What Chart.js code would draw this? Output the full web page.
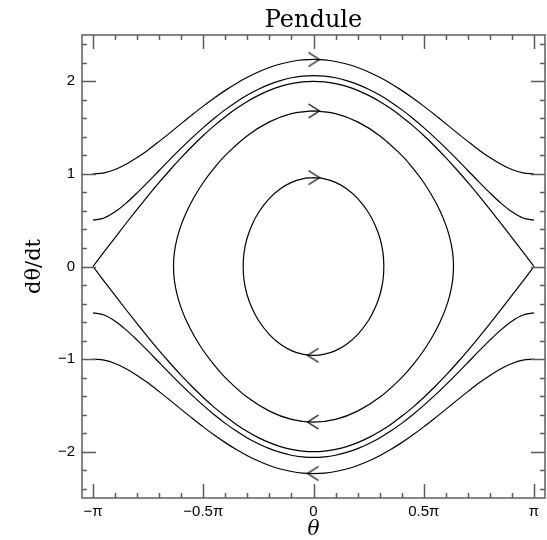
<!DOCTYPE html>
<html lang="fr">
<head>
<meta charset="UTF-8">
<title>Pendule</title>
<script src="https://cdn.jsdelivr.net/npm/chart.js"></script>
<style>
  html, body { margin: 0; padding: 0; background: #fff; }
  canvas { display: block; }
</style>
</head>
<body>
<canvas id="c" width="547" height="540"></canvas>
<script>
// theta in units of pi
const thetaOpen = [-1, -0.95, -0.9, -0.85, -0.8, -0.75, -0.7, -0.65, -0.6, -0.55, -0.5,
                   -0.45, -0.4, -0.35, -0.3, -0.25, -0.2, -0.15, -0.1, -0.05, 0,
                   0.05, 0.1, 0.15, 0.2, 0.25, 0.3, 0.35, 0.4, 0.45, 0.5,
                   0.55, 0.6, 0.65, 0.7, 0.75, 0.8, 0.85, 0.9, 0.95, 1];

const outerTop = [1.000, 1.012, 1.048, 1.104, 1.176, 1.259, 1.351, 1.446, 1.543, 1.639, 1.732,
                  1.820, 1.902, 1.977, 2.043, 2.101, 2.149, 2.187, 2.214, 2.231, 2.236,
                  2.231, 2.214, 2.187, 2.149, 2.101, 2.043, 1.977, 1.902, 1.820, 1.732,
                  1.639, 1.543, 1.446, 1.351, 1.259, 1.176, 1.104, 1.048, 1.012, 1.000];
const outerBot = [-1.000, -1.012, -1.048, -1.104, -1.176, -1.259, -1.351, -1.446, -1.543, -1.639, -1.732,
                  -1.820, -1.902, -1.977, -2.043, -2.101, -2.149, -2.187, -2.214, -2.231, -2.236,
                  -2.231, -2.214, -2.187, -2.149, -2.101, -2.043, -1.977, -1.902, -1.820, -1.732,
                  -1.639, -1.543, -1.446, -1.351, -1.259, -1.176, -1.104, -1.048, -1.012, -1.000];
const midTop = [0.500, 0.524, 0.590, 0.684, 0.795, 0.914, 1.037, 1.159, 1.278, 1.392, 1.500,
                1.601, 1.694, 1.777, 1.851, 1.914, 1.967, 2.008, 2.038, 2.056, 2.062,
                2.056, 2.038, 2.008, 1.967, 1.914, 1.851, 1.777, 1.694, 1.601, 1.500,
                1.392, 1.278, 1.159, 1.037, 0.914, 0.795, 0.684, 0.590, 0.524, 0.500];
const midBot = [-0.500, -0.524, -0.590, -0.684, -0.795, -0.914, -1.037, -1.159, -1.278, -1.392, -1.500,
                -1.601, -1.694, -1.777, -1.851, -1.914, -1.967, -2.008, -2.038, -2.056, -2.062,
                -2.056, -2.038, -2.008, -1.967, -1.914, -1.851, -1.777, -1.694, -1.601, -1.500,
                -1.392, -1.278, -1.159, -1.037, -0.914, -0.795, -0.684, -0.590, -0.524, -0.500];
const sepTop = [0, 0.157, 0.313, 0.467, 0.618, 0.765, 0.908, 1.045, 1.176, 1.299, 1.414,
                1.521, 1.618, 1.705, 1.782, 1.848, 1.902, 1.945, 1.975, 1.994, 2.000,
                1.994, 1.975, 1.945, 1.902, 1.848, 1.782, 1.705, 1.618, 1.521, 1.414,
                1.299, 1.176, 1.045, 0.908, 0.765, 0.618, 0.467, 0.313, 0.157, 0];
const sepBot = [0, -0.157, -0.313, -0.467, -0.618, -0.765, -0.908, -1.045, -1.176, -1.299, -1.414,
                -1.521, -1.618, -1.705, -1.782, -1.848, -1.902, -1.945, -1.975, -1.994, -2.000,
                -1.994, -1.975, -1.945, -1.902, -1.848, -1.782, -1.705, -1.618, -1.521, -1.414,
                -1.299, -1.176, -1.045, -0.908, -0.765, -0.618, -0.467, -0.313, -0.157, 0];

// large closed orbit
const bigLoopX = [0, 0.1, 0.2, 0.3, 0.4, 0.45, 0.5, 0.541, 0.574, 0.600, 0.619, 0.631, 0.635,
                  0.631, 0.619, 0.600, 0.574, 0.541, 0.5, 0.45, 0.4, 0.3, 0.2, 0.1, 0,
                  -0.1, -0.2, -0.3, -0.4, -0.45, -0.5, -0.541, -0.574, -0.600, -0.619, -0.631, -0.635,
                  -0.631, -0.619, -0.600, -0.574, -0.541, -0.5, -0.45, -0.4, -0.3, -0.2, -0.1, 0];
const bigLoopY = [1.680, 1.651, 1.562, 1.413, 1.200, 1.065, 0.907, 0.75, 0.6, 0.45, 0.3, 0.15, 0,
                  -0.15, -0.3, -0.45, -0.6, -0.75, -0.907, -1.065, -1.200, -1.413, -1.562, -1.651, -1.680,
                  -1.651, -1.562, -1.413, -1.200, -1.065, -0.907, -0.75, -0.6, -0.45, -0.3, -0.15, 0,
                  0.15, 0.3, 0.45, 0.6, 0.75, 0.907, 1.065, 1.200, 1.413, 1.562, 1.651, 1.680];

// small closed orbit
const smallLoopX = [0, 0.05, 0.1, 0.15, 0.2, 0.25, 0.28, 0.302, 0.315, 0.319,
                    0.315, 0.302, 0.28, 0.25, 0.2, 0.15, 0.1, 0.05, 0,
                    -0.05, -0.1, -0.15, -0.2, -0.25, -0.28, -0.302, -0.315, -0.319,
                    -0.315, -0.302, -0.28, -0.25, -0.2, -0.15, -0.1, -0.05, 0];
const smallLoopY = [0.960, 0.947, 0.908, 0.839, 0.735, 0.580, 0.444, 0.3, 0.15, 0,
                    -0.15, -0.3, -0.444, -0.580, -0.735, -0.839, -0.908, -0.947, -0.960,
                    -0.947, -0.908, -0.839, -0.735, -0.580, -0.444, -0.3, -0.15, 0,
                    0.15, 0.3, 0.444, 0.580, 0.735, 0.839, 0.908, 0.947, 0.960];

// direction arrows on the orbits
const arrowX = [0, 0, 0, 0, 0, 0];
const arrowY = [2.236, 1.680, 0.960, -0.960, -1.680, -2.236];
const arrowRot = [0, 0, 0, 180, 180, 180];

const xTicks = [-1, -0.5, 0, 0.5, 1];
const xTickLabels = ['\u2212\u03c0', '\u22120.5\u03c0', '0', '0.5\u03c0', '\u03c0'];
const yTicks = [-2, -1, 0, 1, 2];
const yTickLabels = ['\u22122', '\u22121', '0', '1', '2'];

const pts = (xs, ys) => xs.map((v, i) => ({ x: v, y: ys[i] }));

// little open chevron used as point style
const arrowImg = document.createElement('canvas');
arrowImg.width = 24;
arrowImg.height = 18;
(function () {
  const g = arrowImg.getContext('2d');
  g.strokeStyle = '#000';
  g.lineWidth = 1.2;
  g.beginPath();
  g.moveTo(7, 2);
  g.lineTo(18, 9);
  g.lineTo(7, 16);
  g.stroke();
})();

const curve = (data, monotone) => ({
  data: data,
  showLine: true,
  borderColor: '#000',
  borderWidth: 1.2,
  pointRadius: 0,
  fill: false,
  cubicInterpolationMode: monotone ? 'monotone' : 'default',
  tension: monotone ? 0 : 0.4
});

const frame = {
  id: 'frame',
  afterDatasetsDraw(chart) {
    const { ctx, chartArea: a, scales: { x, y } } = chart;
    ctx.save();
    ctx.strokeStyle = '#5c5c5c';
    ctx.lineWidth = 1.5;
    ctx.strokeRect(a.left, a.top, a.right - a.left, a.bottom - a.top);
    ctx.beginPath();
    for (let k = -10; k <= 10; k++) {
      const px = Math.round(x.getPixelForValue(k * 0.1)) + 0.5;
      const len = k % 5 === 0 ? 14 : 5;
      ctx.moveTo(px, a.bottom); ctx.lineTo(px, a.bottom - len);
      ctx.moveTo(px, a.top); ctx.lineTo(px, a.top + len);
    }
    for (let k = -12; k <= 12; k++) {
      const py = Math.round(y.getPixelForValue(k * 0.2)) + 0.5;
      const len = k % 5 === 0 ? 14 : 5;
      ctx.moveTo(a.left, py); ctx.lineTo(a.left + len, py);
      ctx.moveTo(a.right, py); ctx.lineTo(a.right - len, py);
    }
    ctx.stroke();
    ctx.fillStyle = '#000';
    ctx.font = '24px "DejaVu Serif"';
    ctx.textAlign = 'center';
    ctx.textBaseline = 'alphabetic';
    ctx.fillText('Pendule', (a.left + a.right) / 2, 27);
    ctx.restore();
  }
};

new Chart(document.getElementById('c'), {
  type: 'scatter',
  data: {
    datasets: [
      curve(pts(thetaOpen, outerTop), true),
      curve(pts(thetaOpen, outerBot), true),
      curve(pts(thetaOpen, midTop), true),
      curve(pts(thetaOpen, midBot), true),
      curve(pts(thetaOpen, sepTop), true),
      curve(pts(thetaOpen, sepBot), true),
      curve(pts(bigLoopX, bigLoopY), false),
      curve(pts(smallLoopX, smallLoopY), false),
      {
        data: pts(arrowX, arrowY),
        showLine: false,
        pointStyle: arrowImg,
        pointRadius: 5,
        pointRotation: arrowRot
      }
    ]
  },
  options: {
    responsive: false,
    animation: false,
    events: [],
    layout: { autoPadding: false, padding: { top: 35, right: 2, left: 0, bottom: 0 } },
    plugins: {
      legend: { display: false },
      tooltip: { enabled: false },
      title: { display: false }
    },
    scales: {
      x: {
        type: 'linear',
        min: -1.05,
        max: 1.05,
        grid: { display: false, drawTicks: false },
        border: { display: false },
        afterBuildTicks: s => { s.ticks = xTicks.map(v => ({ value: v })); },
        afterFit: s => { s.height = 42; s.paddingLeft = 0; s.paddingRight = 0; },
        ticks: {
          autoSkip: false,
          maxRotation: 0,
          padding: 5,
          color: '#000',
          font: { family: 'Liberation Sans', size: 15 },
          callback: v => xTickLabels[xTicks.indexOf(v)]
        },
        title: {
          display: true,
          text: '\u03b8',
          color: '#000',
          font: { family: 'DejaVu Serif', size: 20, style: 'italic', lineHeight: 1.0 },
          padding: { top: 0, bottom: 0 }
        }
      },
      y: {
        type: 'linear',
        min: -2.5,
        max: 2.5,
        grid: { display: false, drawTicks: false },
        border: { display: false },
        afterBuildTicks: s => { s.ticks = yTicks.map(v => ({ value: v })); },
        afterFit: s => { s.width = 82; s.paddingTop = 0; s.paddingBottom = 0; },
        ticks: {
          autoSkip: false,
          padding: 7,
          color: '#000',
          font: { family: 'Liberation Sans', size: 15 },
          callback: v => yTickLabels[yTicks.indexOf(v)]
        },
        title: {
          display: true,
          text: 'd\u03b8/dt',
          color: '#000',
          font: { family: 'DejaVu Serif', size: 21 },
          padding: { top: 22, bottom: 0 }
        }
      }
    }
  },
  plugins: [frame]
});
</script>
</body>
</html>
